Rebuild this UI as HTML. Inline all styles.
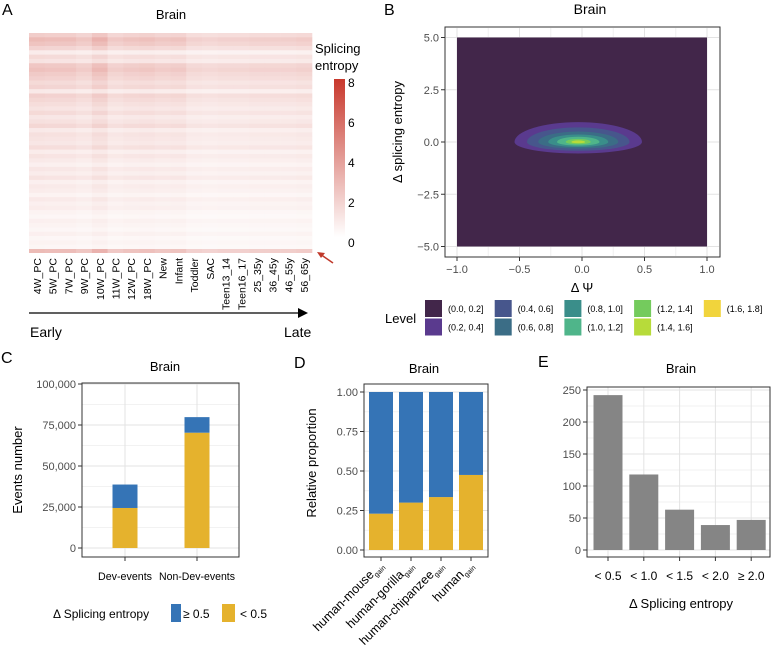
<!DOCTYPE html>
<html><head><meta charset="utf-8"><style>
body{margin:0;background:#fff}
svg{display:block;font-family:"Liberation Sans",sans-serif}
</style></head><body>
<svg id="fig" width="778" height="663" viewBox="0 0 778 663" xmlns="http://www.w3.org/2000/svg">
<g>
<text x="2" y="15" font-size="16">A</text>
<text x="171" y="19" font-size="13" text-anchor="middle">Brain</text>
<g id="heat"></g>
<g id="heatLabels"></g>
<line x1="29" y1="313" x2="300" y2="313" stroke="#000" stroke-width="1.3"/>
<polygon points="298,308 308,313 298,318" fill="#000"/>
<text x="30" y="337" font-size="14">Early</text>
<text x="284" y="337" font-size="14">Late</text>
<text x="315" y="53" font-size="13">Splicing</text>
<text x="315" y="70" font-size="13">entropy</text>
<defs><linearGradient id="cb" x1="0" y1="1" x2="0" y2="0">
<stop offset="0" stop-color="#ffffff"/><stop offset="1" stop-color="#c8382c"/></linearGradient></defs>
<rect x="334" y="79" width="11" height="158" fill="url(#cb)"/>
<g font-size="12" fill="#000">
<text x="348" y="87">8</text><text x="348" y="127">6</text><text x="348" y="167">4</text><text x="348" y="207">2</text><text x="348" y="247">0</text></g>
<line x1="333" y1="263" x2="320" y2="254" stroke="#c0392b" stroke-width="1.5"/>
<polygon points="317,252 325,253 321,258" fill="#c0392b"/>
</g>
<g id="pb">
<text x="384" y="15" font-size="16">B</text>
<text x="590" y="14" font-size="14" text-anchor="middle">Brain</text>
</g>
<g id="pc">
<text x="1" y="363" font-size="16">C</text>
<text x="165" y="371" font-size="13" text-anchor="middle">Brain</text>
</g>
<g id="pd">
<text x="294" y="368" font-size="16">D</text>
<text x="424" y="373" font-size="13" text-anchor="middle">Brain</text>
</g>
<g id="pe">
<text x="538" y="367" font-size="16">E</text>
<text x="681" y="373" font-size="13" text-anchor="middle">Brain</text>
</g>
</svg>
<script>
var NS="http://www.w3.org/2000/svg";
function mk(p,t,a,txt){var e=document.createElementNS(NS,t);for(var k in a)e.setAttribute(k,a[k]);if(txt!==undefined)e.textContent=txt;p.appendChild(e);return e;}

var heatCols=["4W_PC","5W_PC","7W_PC","9W_PC","10W_PC","11W_PC","12W_PC","18W_PC","New","Infant","Toddler","SAC","Teen13_14","Teen16_17","25_35y","36_45y","46_55y","56_65y"];
var colLevel=[1.25,1.2,1.2,1.05,1.4,1.0,1.1,1.15,1.05,1.1,0.85,0.8,0.85,0.85,0.9,0.9,0.9,0.95];
var rowLevel=[1.6,2.2,1.9,1.4,0.6,1.2,0.9,1.8,2.0,1.7,1.5,1.2,1.4,0.7,1.5,1.3,1.1,0.9,1.2,0.8,1.0,1.3,0.7,1.0,0.9,0.8,1.1,0.6,0.9,0.7,0.5,0.8,0.6,0.9,0.5,0.7,0.6,0.4,0.7,0.5,0.6,0.4,0.3,0.5,0.4,0.3,0.5,0.3,0.4,0.3];
var bandValue=2.2;
function heatColor(v){var t=Math.max(0,Math.min(1,v/8));var r=255+(200-255)*t,g=255+(56-255)*t,b=255+(44-255)*t;return "rgb("+r.toFixed(0)+","+g.toFixed(0)+","+b.toFixed(0)+")";}
(function(){
 var g=document.getElementById("heat"),L=document.getElementById("heatLabels");
 var x0=29,x1=312,y0=33,y1=249,cw=(x1-x0)/heatCols.length,rh=(y1-y0)/rowLevel.length;
 for(var r=0;r<rowLevel.length;r++)for(var c=0;c<heatCols.length;c++){
  var el=mk(g,"rect",{x:x0+c*cw,y:y0+r*rh,width:cw+0.3,height:rh+0.3,fill:heatColor(rowLevel[r]*colLevel[c])});
  
  
 }
 for(var c=0;c<heatCols.length;c++){
  var b=mk(g,"rect",{x:x0+c*cw,y:y1,width:cw+0.3,height:4,fill:heatColor(bandValue*colLevel[c])});
  
  
  var cx=x0+(c+0.5)*cw+4;
  var t=mk(L,"text",{x:cx,y:258,"font-size":"10.5","text-anchor":"end",transform:"rotate(-90 "+cx+" 258)"},heatCols[c]);
  
  
 }
})();

var levelLabels=["(0.0, 0.2]","(0.2, 0.4]","(0.4, 0.6]","(0.6, 0.8]","(0.8, 1.0]","(1.0, 1.2]","(1.2, 1.4]","(1.4, 1.6]","(1.6, 1.8]"];
var levelColors=["#42264a","#5a3a8e","#47568c","#3b6d86","#3a8e8a","#4fb58a","#74cb5d","#b7db3a","#f1d43c"];
var contourRx=[0.51,0.41,0.32,0.24,0.17,0.1,0.055];
var contourTop=[0.95,0.7,0.5,0.36,0.25,0.15,0.08];
var contourBot=[0.55,0.42,0.32,0.24,0.17,0.11,0.06];
var bxTicks=[-1,-0.5,0,0.5,1],byTicks=[5,2.5,0,-2.5,-5];
(function(){
 var g=document.getElementById("pb");
 var X=function(v){return 582+v*125;},Y=function(v){return 142-v*20.9;};
 mk(g,"rect",{x:445,y:27,width:275,height:230,fill:"#fff",stroke:"#333","stroke-width":1});
 [-0.75,-0.25,0.25,0.75].forEach(function(v){mk(g,"line",{x1:X(v),y1:28,x2:X(v),y2:256,stroke:"#f0f0f0"});});
 bxTicks.forEach(function(v){mk(g,"line",{x1:X(v),y1:28,x2:X(v),y2:256,stroke:"#e3e3e3"});});
 byTicks.forEach(function(v){mk(g,"line",{x1:446,y1:Y(v),x2:719,y2:Y(v),stroke:"#e3e3e3"});});
 var bg=mk(g,"rect",{x:X(-1),y:Y(5),width:X(1)-X(-1),height:Y(-5)-Y(5),fill:levelColors[0]});
 
 
 var cx=X(-0.03),cy=Y(0);
 for(var i=0;i<contourRx.length;i++){
  var rx=contourRx[i]*125,rt=contourTop[i]*20.9,rb=contourBot[i]*20.9;
  var d="M"+(cx-rx)+","+cy+" A"+rx+","+rt+" 0 0 1 "+(cx+rx)+","+cy+" A"+rx+","+rb+" 0 0 1 "+(cx-rx)+","+cy+"Z";
  var p=mk(g,"path",{d:d,fill:levelColors[i+1]});
  
  
 }
 byTicks.forEach(function(v){mk(g,"line",{x1:441,y1:Y(v),x2:445,y2:Y(v),stroke:"#333"});
  mk(g,"text",{x:439,y:Y(v)+4,"font-size":"11","text-anchor":"end",fill:"#4d4d4d"},v.toFixed(1).replace("-","−"));});
 bxTicks.forEach(function(v){mk(g,"line",{x1:X(v),y1:257,x2:X(v),y2:261,stroke:"#333"});
  mk(g,"text",{x:X(v),y:273,"font-size":"11","text-anchor":"middle",fill:"#4d4d4d"},v.toFixed(1).replace("-","−"));});
 var xt=mk(g,"text",{x:582,y:292,"font-size":"13","text-anchor":"middle"},"Δ Ψ");
 
 var yt=mk(g,"text",{x:402,y:132,"font-size":"13","text-anchor":"middle",transform:"rotate(-90 402 132)"},"Δ splicing entropy");
 
 mk(g,"text",{x:385,y:323,"font-size":"13"},"Level");
 for(var i=0;i<levelLabels.length;i++){
  var col=Math.floor(i/2),row=i%2,lx=425+col*69.7,ly=300+row*18.5;
  var s=mk(g,"rect",{x:lx,y:ly,width:17,height:17,fill:levelColors[i]});
  
  var t=mk(g,"text",{x:lx+23,y:ly+12,"font-size":"9"},levelLabels[i]);
  
 }
})();

var cCats=["Dev-events","Non-Dev-events"];
var cLow=[24400,70300];
var cHigh=[14300,9500];
var cTicks=[0,25000,50000,75000,100000];
(function(){
 var g=document.getElementById("pc");
 var Y=function(v){return 548-v/100000*164;},X=function(i){return 125+i*72;};
 var lw=[54,76];
 [12500,37500,62500,87500].forEach(function(v){mk(g,"line",{x1:82,y1:Y(v),x2:239,y2:Y(v),stroke:"#f2f2f2"});});
 cTicks.forEach(function(v){mk(g,"line",{x1:82,y1:Y(v),x2:239,y2:Y(v),stroke:"#e3e3e3"});
  mk(g,"line",{x1:78,y1:Y(v),x2:82,y2:Y(v),stroke:"#333"});
  mk(g,"text",{x:76,y:Y(v)+4,"font-size":"11","text-anchor":"end",fill:"#4d4d4d"},v.toLocaleString("en-US"));});
 cCats.forEach(function(c,i){mk(g,"line",{x1:X(i),y1:383,x2:X(i),y2:557,stroke:"#e3e3e3"});});
 cCats.forEach(function(c,i){
  var a=mk(g,"rect",{x:X(i)-12.5,y:Y(cLow[i]),width:25,height:Y(0)-Y(cLow[i]),fill:"#e5b22d"});
  
  var b=mk(g,"rect",{x:X(i)-12.5,y:Y(cLow[i]+cHigh[i]),width:25,height:Y(cLow[i])-Y(cLow[i]+cHigh[i]),fill:"#3574b6"});
  
  mk(g,"line",{x1:X(i),y1:557,x2:X(i),y2:561,stroke:"#333"});
  mk(g,"text",{x:X(i)-lw[i]/2,y:580,"font-size":"11",textLength:lw[i],lengthAdjust:"spacingAndGlyphs"},c);
 });
 mk(g,"rect",{x:82,y:383,width:157,height:174,fill:"none",stroke:"#333"});
 var yt=mk(g,"text",{x:22,y:470,"font-size":"13","text-anchor":"middle",transform:"rotate(-90 22 470)"},"Events number");
 
 mk(g,"text",{x:53,y:618,"font-size":"12"},"Δ Splicing entropy");
 var s1=mk(g,"rect",{x:171,y:604,width:10,height:18,fill:"#3574b6"});
 mk(g,"text",{x:183,y:618,"font-size":"12"},"≥ 0.5");
 var s2=mk(g,"rect",{x:222,y:604,width:13,height:18,fill:"#e5b22d"});
 mk(g,"text",{x:240,y:618,"font-size":"12"},"< 0.5");
})();

var dCats=["human-mouse","human-gorilla","human-chipanzee","human"];
var dLow=[0.23,0.30,0.335,0.475];
var dTicks=[0,0.25,0.5,0.75,1];
(function(){
 var g=document.getElementById("pd");
 var Y=function(v){return 550-v*158;},X=function(i){return 381+i*30;};
 [0.125,0.375,0.625,0.875].forEach(function(v){mk(g,"line",{x1:364,y1:Y(v),x2:488,y2:Y(v),stroke:"#f2f2f2"});});
 dTicks.forEach(function(v){mk(g,"line",{x1:364,y1:Y(v),x2:488,y2:Y(v),stroke:"#e3e3e3"});
  mk(g,"line",{x1:360,y1:Y(v),x2:364,y2:Y(v),stroke:"#333"});
  mk(g,"text",{x:358,y:Y(v)+4,"font-size":"11","text-anchor":"end",fill:"#4d4d4d"},v.toFixed(2));});
 dCats.forEach(function(c,i){
  var a=mk(g,"rect",{x:X(i)-12,y:Y(dLow[i]),width:24,height:Y(0)-Y(dLow[i]),fill:"#e5b22d"});
  
  var b=mk(g,"rect",{x:X(i)-12,y:Y(1),width:24,height:Y(dLow[i])-Y(1),fill:"#3574b6"});
  
  mk(g,"line",{x1:X(i),y1:557,x2:X(i),y2:561,stroke:"#333"});
  var tx=X(i)+3,ty=566;
  var t=mk(g,"text",{x:tx,y:ty,"font-size":"12.5","text-anchor":"end",transform:"rotate(-45 "+tx+" "+ty+")"});
  mk(t,"tspan",{},c);mk(t,"tspan",{"font-size":"7",dy:"3"},"gain");
  
 });
 mk(g,"rect",{x:364,y:384,width:124,height:173,fill:"none",stroke:"#333"});
 var yt=mk(g,"text",{x:316,y:463,"font-size":"13","text-anchor":"middle",transform:"rotate(-90 316 463)"},"Relative proportion");
 
})();

var eCats=["< 0.5","< 1.0","< 1.5","< 2.0","≥ 2.0"];
var eVals=[242,118,63,39,47];
var eTicks=[0,50,100,150,200,250];
(function(){
 var g=document.getElementById("pe");
 var Y=function(v){return 550-v*0.64;},X=function(i){return 608+i*35.8;};
 [25,75,125,175,225].forEach(function(v){mk(g,"line",{x1:587,y1:Y(v),x2:770,y2:Y(v),stroke:"#f2f2f2"});});
 eTicks.forEach(function(v){mk(g,"line",{x1:587,y1:Y(v),x2:770,y2:Y(v),stroke:"#e3e3e3"});
  mk(g,"line",{x1:583,y1:Y(v),x2:587,y2:Y(v),stroke:"#333"});
  mk(g,"text",{x:581,y:Y(v)+4,"font-size":"11","text-anchor":"end",fill:"#4d4d4d"},String(v));});
 eCats.forEach(function(c,i){mk(g,"line",{x1:X(i),y1:387,x2:X(i),y2:557,stroke:"#e3e3e3"});});
 eCats.forEach(function(c,i){
  var a=mk(g,"rect",{x:X(i)-14.5,y:Y(eVals[i]),width:29,height:Y(0)-Y(eVals[i]),fill:"#858585"});
  
  mk(g,"line",{x1:X(i),y1:557,x2:X(i),y2:561,stroke:"#333"});
  mk(g,"text",{x:X(i),y:580,"font-size":"12","text-anchor":"middle"},c);
 });
 mk(g,"rect",{x:587,y:387,width:183,height:170,fill:"none",stroke:"#333"});
 var xt=mk(g,"text",{x:681,y:608,"font-size":"13","text-anchor":"middle"},"Δ Splicing entropy");
 
})();
</script>
</body></html>
